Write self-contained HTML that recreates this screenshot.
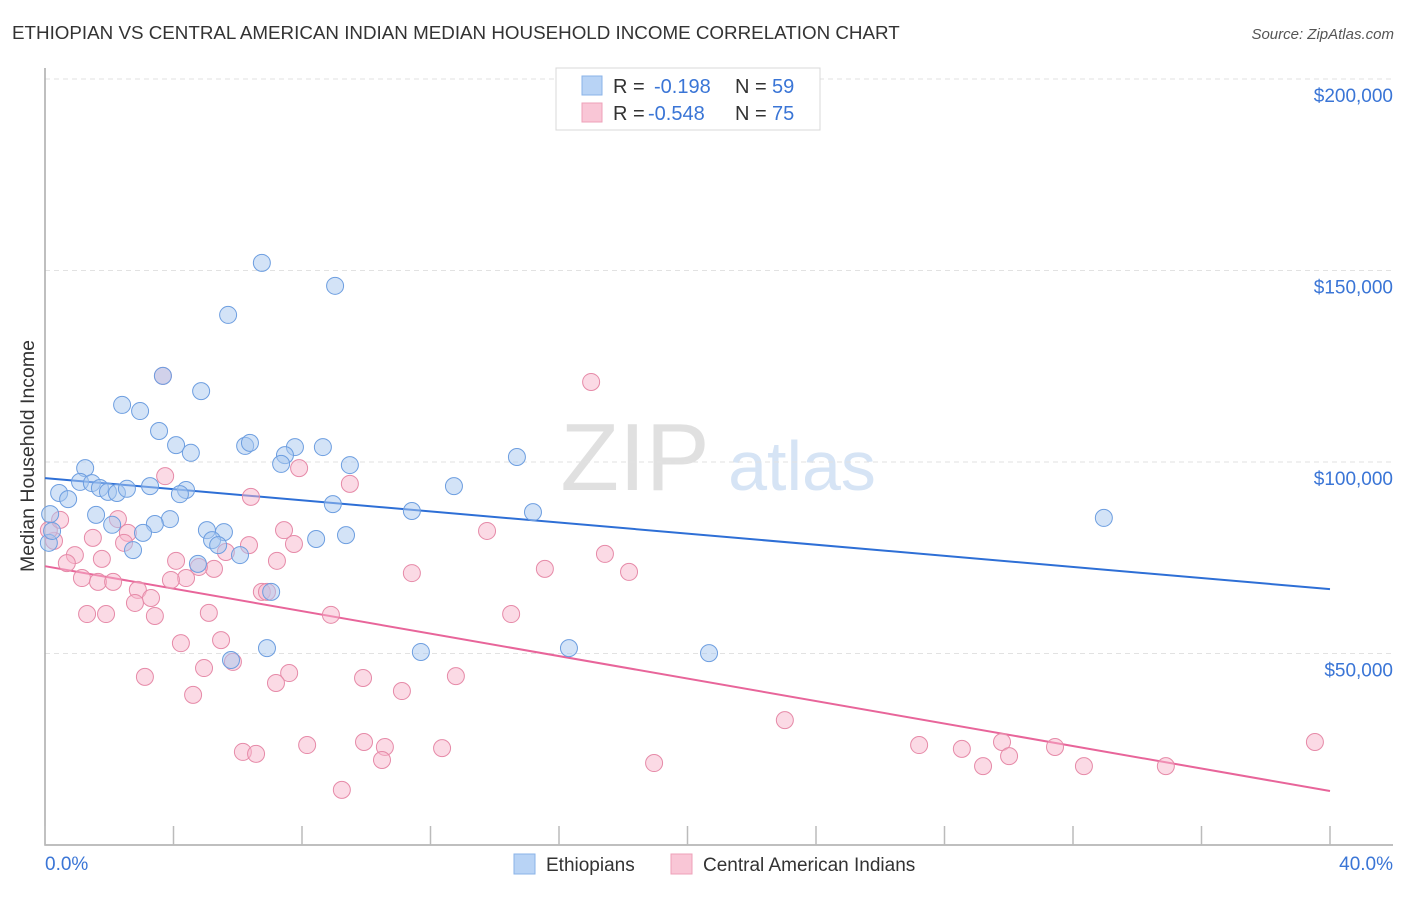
<!DOCTYPE html>
<html><head><meta charset="utf-8"><style>
body{margin:0;background:#fff;font-family:"Liberation Sans",sans-serif}
svg text{font-family:"Liberation Sans",sans-serif}
</style></head><body>
<svg id="chart" width="1406" height="892" xmlns="http://www.w3.org/2000/svg">
<text x="12" y="39" font-size="18.8" fill="#333">ETHIOPIAN VS CENTRAL AMERICAN INDIAN MEDIAN HOUSEHOLD INCOME CORRELATION CHART</text>
<text x="1394" y="39" font-size="15" fill="#555" text-anchor="end" font-style="italic">Source: ZipAtlas.com</text>
<text transform="translate(34,456) rotate(-90)" font-size="19.5" fill="#333" text-anchor="middle">Median Household Income</text>
<g>
<text x="635" y="490" font-size="96" fill="#e0e0e0" font-family="Liberation Serif" text-anchor="middle">ZIP</text>
<text x="802" y="490" font-size="70" fill="#d6e4f5" text-anchor="middle">atlas</text>
</g>
<g id="grid"></g><g id="axes"></g><g id="lines"></g><g id="pts"></g>
<g>
<rect x="556" y="68" width="264" height="62" fill="#fff" stroke="#d8d8d8"/>
<rect x="582" y="76" width="20" height="19" fill="#b8d3f5" stroke="#8ab3e8"/>
<rect x="582" y="103" width="20" height="19" fill="#f9c6d6" stroke="#eea0b8"/>
<text x="613" y="93" font-size="20" fill="#333">R = </text><text x="654" y="93" font-size="20" fill="#3a75d6">-0.198</text>
<text x="735" y="93" font-size="20" fill="#333">N = </text><text x="772" y="93" font-size="20" fill="#3a75d6">59</text>
<text x="613" y="120" font-size="20" fill="#333">R = </text><text x="648" y="120" font-size="20" fill="#3a75d6">-0.548</text>
<text x="735" y="120" font-size="20" fill="#333">N = </text><text x="772" y="120" font-size="20" fill="#3a75d6">75</text>
</g>
<g>
<rect x="514" y="854" width="21" height="20" fill="#b8d3f5" stroke="#8ab3e8"/>
<text x="546" y="871" font-size="19" fill="#333">Ethiopians</text>
<rect x="671" y="854" width="21" height="20" fill="#f9c6d6" stroke="#eea0b8"/>
<text x="703" y="871" font-size="19" fill="#333">Central American Indians</text>
</g>
</svg>
<script>
const blueX=[6.75,9.03,5.70,3.67,4.86,2.40,2.96,3.55,4.08,4.54,6.23,6.38,7.78,8.65,14.69,7.47,7.35,9.49,1.25,12.73,1.09,1.46,1.71,0.44,0.72,1.96,2.24,2.55,3.27,4.39,4.20,8.96,11.42,15.19,32.96,1.59,3.89,3.42,2.09,3.05,5.04,5.57,5.20,5.39,8.44,9.37,2.74,6.07,4.76,7.04,0.12,0.22,0.16,5.79,6.91,11.70,16.31,20.67];
const blueY=[152.0,146.0,138.4,122.5,118.5,114.9,113.3,108.1,104.4,102.4,104.2,105.0,103.9,103.9,101.3,101.8,99.5,99.2,98.4,93.7,94.8,94.5,93.2,91.9,90.3,92.2,91.9,93.0,93.7,92.7,91.6,89.0,87.2,86.9,85.4,86.2,85.1,83.8,83.6,81.5,82.2,81.7,79.6,78.3,79.9,80.9,77.0,75.7,73.4,66.1,78.9,82.0,86.4,48.3,51.4,50.4,51.4,50.1];
const pinkX=[3.67,17.00,3.74,6.41,9.49,7.91,13.76,2.27,1.49,7.44,7.75,6.35,5.63,17.43,15.56,18.18,11.42,7.22,1.77,0.93,0.68,2.58,2.46,4.08,4.39,5.26,4.79,1.15,1.65,2.12,3.92,2.89,3.30,2.80,6.75,6.91,1.31,1.90,3.42,5.10,8.90,14.51,4.23,5.48,4.95,5.85,7.60,3.11,9.90,7.19,12.79,11.11,4.61,23.03,6.16,6.57,8.16,9.93,10.58,10.49,12.36,18.96,27.21,28.54,29.79,29.20,30.01,31.44,32.34,34.89,39.53,9.24,0.28,0.12,0.47];
const pinkY=[122.5,120.9,96.3,90.9,94.3,98.4,82.0,85.1,80.2,82.2,78.6,78.3,76.5,76.0,72.1,71.3,71.0,74.2,74.7,75.7,73.6,81.5,78.9,74.2,69.7,72.1,72.6,69.7,68.7,68.7,69.2,66.6,64.5,63.2,66.1,66.1,60.3,60.3,59.8,60.6,60.1,60.3,52.7,53.5,46.2,47.8,44.9,43.9,43.6,42.3,44.1,40.2,39.2,32.6,24.3,23.8,26.1,26.9,25.6,22.2,25.3,21.4,26.1,25.1,26.9,20.6,23.2,25.6,20.6,20.6,26.9,14.4,79.4,82.2,84.9];
const blueTrend=[95.8,66.8];
const pinkTrend=[72.8,14.1];
const yTicks=[50,100,150,200];
const yTickLabels=["$50,000","$100,000","$150,000","$200,000"];
const xTicks=[0,4,8,12,16,20,24,28,32,36,40];
const NS="http://www.w3.org/2000/svg";
const sx=v=>45+v/40*1285;
const sy=v=>845-v*3.83;
function el(tag,attrs,parent){const e=document.createElementNS(NS,tag);for(const k in attrs)e.setAttribute(k,attrs[k]);parent.appendChild(e);return e;}
const grid=document.getElementById('grid'),axes=document.getElementById('axes'),lines=document.getElementById('lines'),pts=document.getElementById('pts');
yTicks.forEach((t,i)=>{
 const l=el('line',{x1:45,x2:1393,y1:sy(t),y2:sy(t),stroke:'#e2e2e2','stroke-dasharray':'5,4'},grid);
 
 
 const tx=el('text',{x:1393,y:sy(t)+23,'font-size':19,fill:'#3a75d6','text-anchor':'end'},axes);
 tx.textContent=yTickLabels[i];
 
 
});
const ax=el('path',{d:'M45,68 V845 H1393',fill:'none',stroke:'#aaa','stroke-width':1.5},axes);


xTicks.forEach(t=>{
 const l=el('line',{x1:sx(t),x2:sx(t),y1:826,y2:845,stroke:'#bbb','stroke-width':1.5},axes);
 
 
});
const xl0=el('text',{x:45,y:870,'font-size':19,fill:'#3a75d6'},axes);xl0.textContent='0.0%';


const xl1=el('text',{x:1393,y:870,'font-size':19,fill:'#3a75d6','text-anchor':'end'},axes);xl1.textContent='40.0%';


function drawPts(X,Y,fill,stroke,name){X.forEach((x,i)=>{
 const c=el('circle',{cx:sx(x),cy:sy(Y[i]),r:8.5,fill:fill,'fill-opacity':0.5,stroke:stroke,'stroke-width':1},pts);
 
 
});}
drawPts(pinkX,pinkY,'#f7b6cb','#e68aa8','central-american-indian-point');
drawPts(blueX,blueY,'#a8c7ef','#6d9ee0','ethiopian-point');
const bl=el('line',{x1:sx(0),y1:sy(blueTrend[0]),x2:sx(40),y2:sy(blueTrend[1]),stroke:'#2e6fd6','stroke-width':2},lines);


const pl=el('line',{x1:sx(0),y1:sy(pinkTrend[0]),x2:sx(40),y2:sy(pinkTrend[1]),stroke:'#e8659a','stroke-width':2},lines);


</script>
</body></html>
